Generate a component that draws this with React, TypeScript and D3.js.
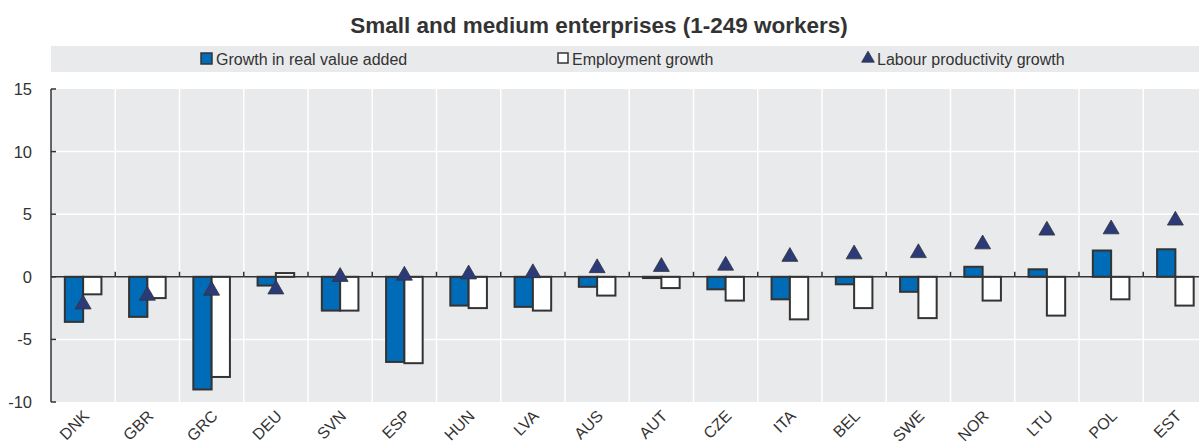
import React from "react";
import * as d3 from "d3";

const categories = ["DNK","GBR","GRC","DEU","SVN","ESP","HUN","LVA","AUS","AUT","CZE","ITA","BEL","SWE","NOR","LTU","POL","EST"];
const valueAdded = [-3.6,-3.2,-9.0,-0.7,-2.7,-6.8,-2.3,-2.4,-0.8,-0.1,-1.0,-1.8,-0.6,-1.2,0.8,0.6,2.1,2.2];
const employment = [-1.4,-1.7,-8.0,0.3,-2.7,-6.9,-2.5,-2.7,-1.5,-0.9,-1.9,-3.4,-2.5,-3.3,-1.9,-3.1,-1.8,-2.3];
const productivity = [-2.2,-1.5,-1.1,-1.0,0.0,0.1,0.2,0.3,0.7,0.8,0.9,1.6,1.8,1.9,2.6,3.7,3.8,4.5];
const yTicks = [-10,-5,0,5,10,15];
const title = "Small and medium enterprises (1-249 workers)";
const legendLabels = ["Growth in real value added","Employment growth","Labour productivity growth"];

const W = 1199, H = 446;
const left = 51, top = 89, bottom = 402;
const font = "'Liberation Sans', Arial, sans-serif";
const BLUE = "#006BB6", NAVY = "#2B3A78", DARK = "#333333", BG = "#E9EAEC";

export default function App() {
  const x = d3.scaleBand().domain(categories).range([left, left + 18 * 64.25]).padding(0);
  const y = d3.scaleLinear().domain([-10, 15]).range([bottom, top]);
  const bw = x.bandwidth();
  const barW = 18.3;
  const tri = d3.symbol().type(d3.symbolTriangle).size(110)();
  return (
    <svg width={W} height={H} style={{ position: "absolute", left: 0, top: 0 }} fontFamily={font}>
      <text x={599} y={33} textAnchor="middle" fontWeight="bold" fontSize={22.5} fill={DARK}>{title}</text>
      <rect x={51} y={46} width={W - 51} height={26} fill={BG} />
      <rect x={201} y={53} width={11} height={11} fill={BLUE} stroke={DARK} strokeWidth={1.5} />
      <text x={216} y={65} fontSize={16} fill={DARK}>{legendLabels[0]}</text>
      <rect x={558} y={53} width={10} height={10} fill="#fff" stroke={DARK} strokeWidth={1.5} />
      <text x={572} y={65} fontSize={16} fill={DARK}>{legendLabels[1]}</text>
      <path d={d3.symbol().type(d3.symbolTriangle).size(70)() as string} transform="translate(868,58.5)" fill={NAVY} stroke={DARK} strokeWidth={0.8} />
      <text x={877} y={65} fontSize={16} fill={DARK}>{legendLabels[2]}</text>

      <rect x={left} y={top} width={W - left} height={bottom - top} fill={BG} />
      {yTicks.filter(t => t !== 0 && t !== -10 && t !== 15).map(t => (
        <line key={t} x1={left} x2={W} y1={y(t)} y2={y(t)} stroke="#fff" strokeWidth={1.5} />
      ))}
      {categories.slice(1).map(c => (
        <line key={c} x1={x(c)!} x2={x(c)!} y1={top} y2={bottom} stroke="#fff" strokeWidth={1.5} />
      ))}
      {yTicks.map(t => (
        <g key={t}>
          <line x1={left} x2={left + 5} y1={y(t)} y2={y(t)} stroke={DARK} strokeWidth={1.5} />
          <text x={32} y={y(t) + 6} textAnchor="end" fontSize={16.5} fill={DARK}>{t}</text>
        </g>
      ))}
      <line x1={left} x2={left} y1={top} y2={bottom} stroke={DARK} strokeWidth={1.5} />

      {categories.map((c, i) => {
        const cx = x(c)! + bw / 2;
        const v1 = valueAdded[i], v2 = employment[i];
        return (
          <g key={c}>
            <rect x={cx - barW} y={Math.min(y(v1), y(0))} width={barW} height={Math.abs(y(v1) - y(0))} fill={BLUE} stroke={DARK} strokeWidth={2} />
            <rect x={cx} y={Math.min(y(v2), y(0))} width={barW} height={Math.abs(y(v2) - y(0))} fill="#fff" stroke={DARK} strokeWidth={2} />
          </g>
        );
      })}
      <line x1={left} x2={W} y1={y(0)} y2={y(0)} stroke={DARK} strokeWidth={1.5} />
      {categories.slice(1).map(c => (
        <line key={"t" + c} x1={x(c)!} x2={x(c)!} y1={y(0) - 5} y2={y(0)} stroke={DARK} strokeWidth={1.5} />
      ))}
      {categories.map((c, i) => (
        <path key={"p" + c} d={tri as string} transform={`translate(${x(c)! + bw / 2},${y(productivity[i])})`} fill={NAVY} stroke={DARK} strokeWidth={0.8} />
      ))}
      {categories.map(c => (
        <text key={"l" + c} fontSize={16} fill={DARK} textAnchor="end"
          transform={`translate(${x(c)! + bw / 2 + 7},${bottom + 15}) rotate(-45)`}>{c}</text>
      ))}
    </svg>
  );
}
